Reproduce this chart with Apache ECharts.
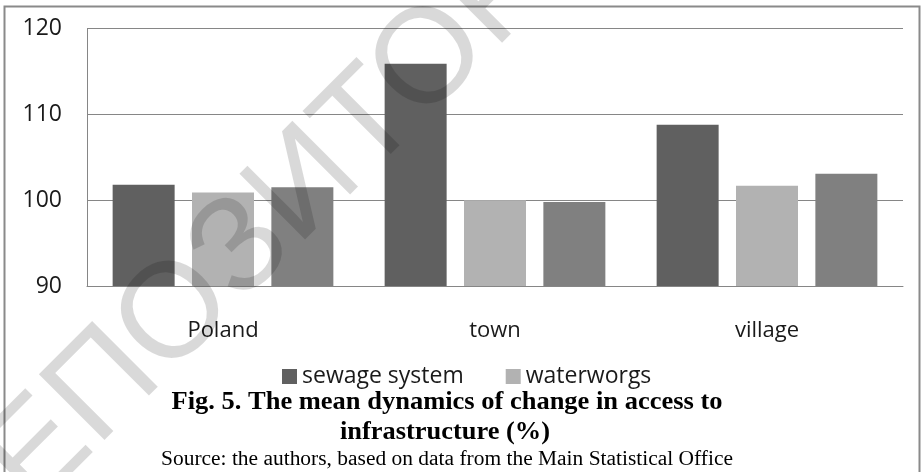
<!DOCTYPE html>
<html>
<head>
<meta charset="utf-8">
<script src="https://cdn.jsdelivr.net/npm/echarts@6/dist/echarts.min.js"></script>
<style>
html,body{margin:0;padding:0;background:#fff;}
#chart{width:923px;height:472px;}
</style>
</head>
<body>
<div id="chart"></div>
<script>
const categories = ['Poland', 'town', 'village'];
const sewageSystem = [101.8, 115.9, 108.8];
const waterworgs = [100.9, 100.0, 101.7];
const thirdSeries = [101.5, 99.8, 103.1];
const yTicks = [90, 100, 110, 120];
const legendNames = ['sewage system', 'waterworgs'];
const titleLine1 = 'Fig. 5. The mean dynamics of change in access to';
const titleLine2 = 'infrastructure (%)';
const sourceText = 'Source: the authors, based on data from the Main Statistical Office';
const watermarkText = 'РЕПОЗИТОРИЙ';

function fitScale(text, font, target) {
  const c = document.createElement('canvas').getContext('2d');
  c.font = font;
  return target / c.measureText(text).width;
}

const titleFont = 'bold 25px "Liberation Serif"';
const sourceFont = '20px "Liberation Serif"';

const chart = echarts.init(document.getElementById('chart'), null, {renderer: 'canvas'});
const gridColor = '#868686';
const option = {
  animation: false,
  backgroundColor: '#ffffff',
  grid: {left: 87, right: 20, top: 28.7, bottom: 186, containLabel: false},
  legend: {
    data: legendNames,
    left: 277, top: 360,
    itemWidth: 15, itemHeight: 15, itemGap: 42,
    icon: 'rect',
    textStyle: {fontFamily: 'Open Sans', fontSize: 23, color: '#1a1a1a', padding: [0, 0, 0, 0]}
  },
  xAxis: {
    type: 'category',
    data: categories,
    axisLine: {show: true, lineStyle: {color: gridColor, width: 1}},
    axisTick: {show: false},
    axisLabel: {fontFamily: 'Open Sans', fontSize: 22, color: '#1a1a1a', margin: 34, lineHeight: 22}
  },
  yAxis: {
    type: 'value',
    min: yTicks[0], max: yTicks[yTicks.length - 1], interval: 10,
    axisLine: {show: true, lineStyle: {color: gridColor, width: 1}},
    axisTick: {show: false},
    splitLine: {show: true, lineStyle: {color: gridColor, width: 1}},
    axisLabel: {fontFamily: 'Open Sans', fontSize: 23, color: '#1a1a1a', margin: 25}
  },
  series: [
    {name: 'sewage system', type: 'bar', data: sewageSystem, barWidth: 62, barGap: '28%', itemStyle: {color: '#606060'}},
    {name: 'waterworgs', type: 'bar', data: waterworgs, barWidth: 62, barGap: '28%', itemStyle: {color: '#b2b2b2'}},
    {name: 'series 3', type: 'bar', data: thirdSeries, barWidth: 62, barGap: '28%', itemStyle: {color: '#808080'}}
  ],
  graphic: [
    {type: 'rect', z: 0, silent: true, shape: {x: 4.5, y: 6.5, width: 915, height: 480},
     style: {fill: 'none', stroke: '#8a8a8a', lineWidth: 2}},
    {type: 'text', x: 447, y: 402.5, scaleX: fitScale(titleLine1, titleFont, 551), silent: true,
     style: {text: titleLine1, font: titleFont, fill: '#000', textAlign: 'center', textVerticalAlign: 'middle'}},
    {type: 'text', x: 445, y: 432.5, scaleX: fitScale(titleLine2, titleFont, 210), silent: true,
     style: {text: titleLine2, font: titleFont, fill: '#000', textAlign: 'center', textVerticalAlign: 'middle'}},
    {type: 'text', x: 447, y: 460, scaleX: fitScale(sourceText, sourceFont, 572), silent: true,
     style: {text: sourceText, font: sourceFont, fill: '#000', textAlign: 'center', textVerticalAlign: 'middle'}},
    {type: 'text', x: 306, y: 186, rotation: Math.PI / 4, z: 100, silent: true,
     style: {text: watermarkText, font: '135px "Liberation Sans"', fill: 'rgba(0,0,0,0.15)', textAlign: 'center', textVerticalAlign: 'middle'}}
  ]
};
chart.setOption(option);
</script>
</body>
</html>
